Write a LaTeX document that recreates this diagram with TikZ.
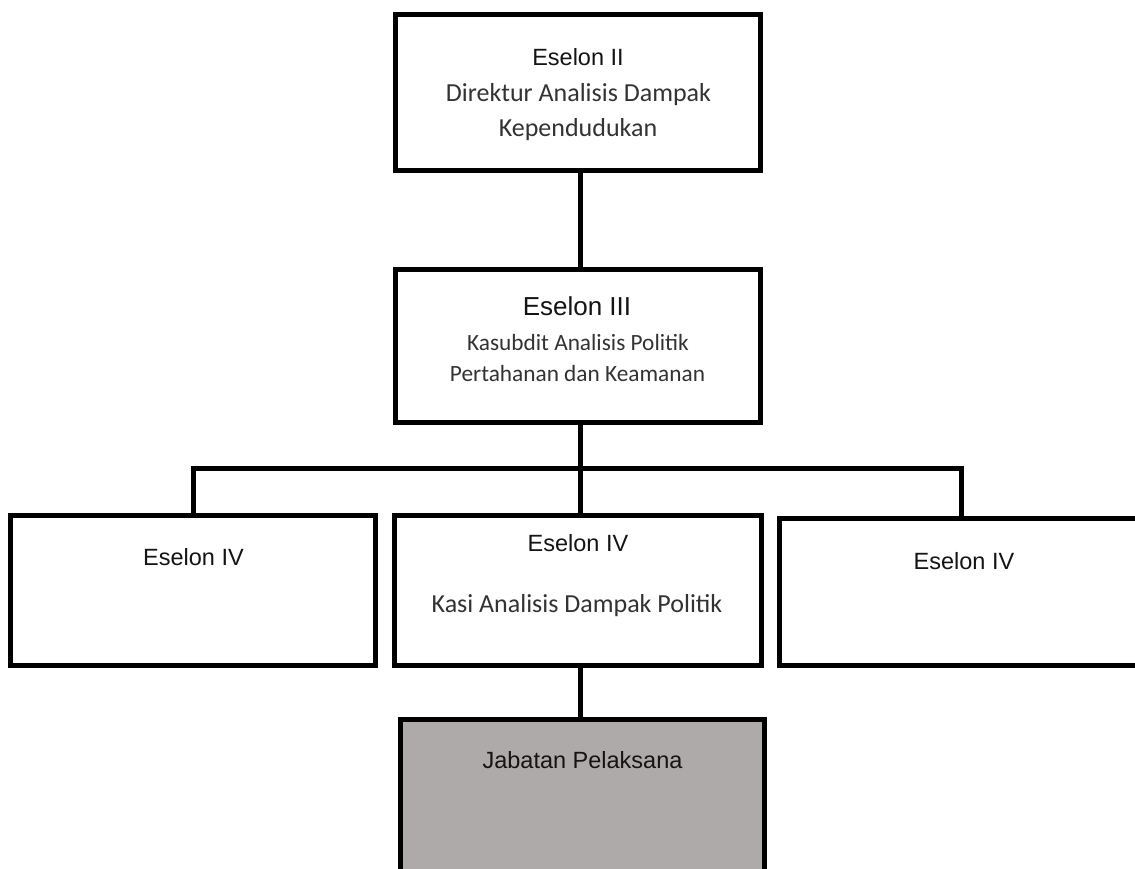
\documentclass[tikz,border=0pt]{standalone}
\usepackage{fontspec}
\setmainfont{Liberation Sans}
\newfontfamily\bodyfont{Carlito}
\definecolor{boxgray}{HTML}{AEAAA9}
\tikzset{
  box/.style={draw=black, line width=5pt, rectangle, inner sep=0pt, fill=white},
  graybox/.style={box, fill=boxgray},
  conn/.style={draw=black, line width=5pt},
  head/.style={inner sep=0pt, anchor=base, font=\fontsize{23.5}{28}\selectfont, text=black!92},
  headbig/.style={inner sep=0pt, anchor=base, font=\fontsize{26}{30}\selectfont, text=black!92},
  body/.style={inner sep=0pt, anchor=base, font=\bodyfont\fontsize{23.3}{28}\selectfont, text=black!80},
  bodybig/.style={inner sep=0pt, anchor=base, font=\bodyfont\fontsize{26}{30}\selectfont, text=black!80}
}
\begin{document}
\begin{tikzpicture}[x=1pt,y=-1pt]
\useasboundingbox (0,0) rectangle (1135,869);
\clip (0,0) rectangle (1135,869);
% boxes
\node[box, minimum width=365pt, minimum height=156pt] (b1) at (578,92.5) {};
\node[box, minimum width=364.5pt, minimum height=152.5pt] (b2) at (578,346) {};
\node[box, minimum width=364.5pt, minimum height=150pt] (b3) at (193,590) {};
\node[box, minimum width=367.5pt, minimum height=150pt] (b4) at (578,590) {};
\node[box, minimum width=365pt, minimum height=147pt] (b5) at (961.5,591.5) {};
\node[graybox, minimum width=364pt, minimum height=170pt] (b6) at (582,804) {};
% connectors
\coordinate (bus) at (580,468);
\coordinate (spine) at (580,0);
\draw[conn] (b1.south -| spine) -- (b2.north -| spine);
\draw[conn] (b2.south -| spine) -- (b4.north -| spine);
\draw[conn] (b3.north) -- (b3.north |- bus) -- (b5.north |- bus) -- (b5.north);
\draw[conn] (b4.south -| spine) -- (b6.north -| spine);
% texts
\node[head] (t1a) at (578,66) {Eselon II};
\node[bodybig] (t1b) at (578.5,101.7) {Direktur Analisis Dampak};
\node[bodybig] (t1c) at (578,136.7) {Kependudukan};
\node[headbig] (t2a) at (577,315) {Eselon III};
\node[body] (t2b) at (578,350) {Kasubdit Analisis Politik};
\node[body] (t2c) at (577.5,381.7) {Pertahanan dan Keamanan};
\node[head] (t3) at (193.5,565.7) {Eselon IV};
\node[head] (t4a) at (578,551.7) {Eselon IV};
\node[bodybig] (t4b) at (577,612) {Kasi Analisis Dampak Politik};
\node[head] (t5) at (964,569) {Eselon IV};
\node[head] (t6) at (582.5,768.3) {Jabatan Pelaksana};
\end{tikzpicture}
\end{document}
